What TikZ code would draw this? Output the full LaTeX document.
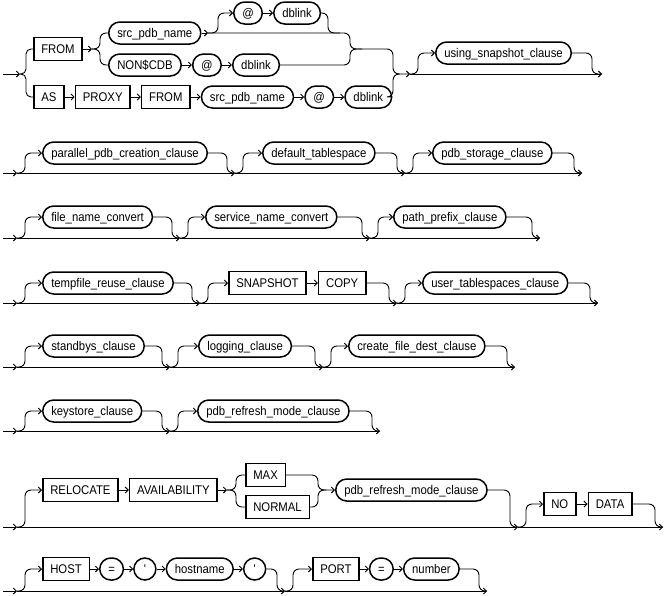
\documentclass[tikz,border=0pt]{standalone}
\usepackage{fontspec}
\newfontfamily\railsans{Liberation Sans}[FakeStretch=0.9]
\usetikzlibrary{arrows.meta,positioning}
\tikzset{
  rail/.style={line width=0.9pt, rounded corners=6pt},
  railto/.style={rail, -{Straight Barb[length=3pt,width=6pt]}},
  kwbox/.style={draw, line width=1.5pt, rectangle, minimum height=23pt, inner xsep=7.5pt, inner ysep=0pt,
    text height=9pt, text depth=0pt, font=\railsans\fontsize{12.6pt}{14pt}\selectfont, anchor=west},
  ntbox/.style={kwbox, rounded corners=11pt, minimum height=22pt, minimum width=22pt, inner xsep=8.5pt},
}
\begin{document}
\begin{tikzpicture}[x=1pt,y=-1pt]
\path[use as bounding box,fill=white] (0,0) rectangle (668,595);

% FROM ... / AS PROXY FROM ...
\node[kwbox] (from1) at (33,49) {FROM};
\node[ntbox] (src1) at (108,33) {src\_pdb\_name};
\node[ntbox] (at1) at (233,13) {@};
\node[ntbox,right=10pt of at1] (dblink1) {dblink};
\node[ntbox] (noncdb) at (108,65) {NON\$CDB};
\node[ntbox,right=10pt of noncdb] (at2) {@};
\node[ntbox,right=10pt of at2] (dblink2) {dblink};
\node[kwbox] (as) at (33,97) {AS};
\node[kwbox,right=10pt of as] (proxy) {PROXY};
\node[kwbox,right=10pt of proxy] (from2) {FROM};
\node[ntbox,right=10pt of from2] (src2) {src\_pdb\_name};
\node[ntbox,right=10pt of src2] (at3) {@};
\node[ntbox,right=10pt of at3] (dblink3) {dblink};
\node[ntbox] (usnap) at (435,53) {using\_snapshot\_clause};

\coordinate (r1a) at (3,74);
\coordinate (r1b) at (20,74);
\coordinate (fsp) at (92,49);
\coordinate (s1o) at (208,33);
\coordinate (m1) at (410,74);
\coordinate (r1e) at (602,74);

\draw[railto] (r1a) -- (r1b);
\draw[rail,rounded corners=5pt] (r1b) -| (26,49) -- (from1.west);
\draw[rail,rounded corners=5pt] (r1b) -| (26,97) -- (as.west);
\draw[railto] (from1.east) -- (fsp);
\draw[rail] (fsp) -| (100,33) -- (src1.west);
\draw[rail] (fsp) -| (100,65) -- (noncdb.west);
\draw[railto] (src1.east) -- (s1o);
\draw[railto] (s1o) -| (218,13) -- (at1.west);
\draw[railto] (at1) -- (dblink1);
\draw[rail] (dblink1.east) -| (328,33) -- (340,33);
\draw[railto] (s1o) -| (350,49) -| (393,74) -- (m1);
\draw[railto] (noncdb) -- (at2);
\draw[railto] (at2) -- (dblink2);
\draw[rail] (dblink2.east) -| (350,49) -- (362,49);
\draw[railto] (as) -- (proxy);
\draw[railto] (proxy) -- (from2);
\draw[railto] (from2) -- (src2);
\draw[railto] (src2) -- (at3);
\draw[railto] (at3) -- (dblink3);
\draw[rail] (dblink3.east) -| (393,74) -- (400,74);
\draw[railto] (m1) -- (r1e);
\draw[railto] (m1) -| (418,53) -- (usnap.west);
\draw[rail] (usnap.east) -| (592,74) -- (r1e);

% parallel_pdb_creation_clause ...
\node[ntbox] (ppcc) at (42,153) {parallel\_pdb\_creation\_clause};
\node[ntbox] (dtbs) at (262,153) {default\_tablespace};
\node[ntbox] (pscl) at (432,153) {pdb\_storage\_clause};
\coordinate (r2a) at (3,173);
\coordinate (r2b) at (17,173);
\coordinate (r2c) at (235,173);
\coordinate (r2d) at (405,173);
\coordinate (r2e) at (582,173);
\draw[railto] (r2a) -- (r2b);
\draw[railto] (r2b) -- (r2c);
\draw[railto] (r2c) -- (r2d);
\draw[railto] (r2d) -- (r2e);
\draw[railto] (r2b) -| (25,153) -- (ppcc.west);
\draw[rail] (ppcc.east) -| (227,173) -- (r2c);
\draw[railto] (r2c) -| (243,153) -- (dtbs.west);
\draw[rail] (dtbs.east) -| (397,173) -- (r2d);
\draw[railto] (r2d) -| (413,153) -- (pscl.west);
\draw[rail] (pscl.east) -| (574,173) -- (r2e);

% file_name_convert ...
\node[ntbox] (fnc) at (42,217) {file\_name\_convert};
\node[ntbox] (snc) at (205,217) {service\_name\_convert};
\node[ntbox] (ppfx) at (393,217) {path\_prefix\_clause};
\coordinate (r3a) at (3,238);
\coordinate (r3b) at (17,238);
\coordinate (r3c) at (180,238);
\coordinate (r3d) at (370,238);
\coordinate (r3e) at (540,238);
\draw[railto] (r3a) -- (r3b);
\draw[railto] (r3b) -- (r3c);
\draw[railto] (r3c) -- (r3d);
\draw[railto] (r3d) -- (r3e);
\draw[railto] (r3b) -| (25,217) -- (fnc.west);
\draw[rail] (fnc.east) -| (172,238) -- (r3c);
\draw[railto] (r3c) -| (188,217) -- (snc.west);
\draw[rail] (snc.east) -| (362,238) -- (r3d);
\draw[railto] (r3d) -| (378,217) -- (ppfx.west);
\draw[rail] (ppfx.east) -| (532,238) -- (r3e);

% tempfile_reuse_clause ...
\node[ntbox] (trc) at (42,283) {tempfile\_reuse\_clause};
\node[kwbox] (snapshot) at (228,283) {SNAPSHOT};
\node[kwbox,right=11pt of snapshot] (copy) {COPY};
\node[ntbox] (utc) at (422,283) {user\_tablespaces\_clause};
\coordinate (r4a) at (3,303);
\coordinate (r4b) at (17,303);
\coordinate (r4c) at (200,303);
\coordinate (r4d) at (397,303);
\coordinate (r4e) at (598,303);
\draw[railto] (r4a) -- (r4b);
\draw[railto] (r4b) -- (r4c);
\draw[railto] (r4c) -- (r4d);
\draw[railto] (r4d) -- (r4e);
\draw[railto] (r4b) -| (25,283) -- (trc.west);
\draw[rail] (trc.east) -| (192,303) -- (r4c);
\draw[railto] (r4c) -| (208,283) -- (snapshot.west);
\draw[railto] (snapshot) -- (copy);
\draw[rail] (copy.east) -| (389,303) -- (r4d);
\draw[railto] (r4d) -| (405,283) -- (utc.west);
\draw[rail] (utc.east) -| (590,303) -- (r4e);

% standbys_clause ...
\node[ntbox] (sbc) at (42,346) {standbys\_clause};
\node[ntbox] (lgc) at (198,346) {logging\_clause};
\node[ntbox] (cfdc) at (348,346) {create\_file\_dest\_clause};
\coordinate (r5a) at (3,367);
\coordinate (r5b) at (17,367);
\coordinate (r5c) at (170,367);
\coordinate (r5d) at (323,367);
\coordinate (r5e) at (515,367);
\draw[railto] (r5a) -- (r5b);
\draw[railto] (r5b) -- (r5c);
\draw[railto] (r5c) -- (r5d);
\draw[railto] (r5d) -- (r5e);
\draw[railto] (r5b) -| (25,346) -- (sbc.west);
\draw[rail] (sbc.east) -| (162,367) -- (r5c);
\draw[railto] (r5c) -| (178,346) -- (lgc.west);
\draw[rail] (lgc.east) -| (315,367) -- (r5d);
\draw[railto] (r5d) -| (331,346) -- (cfdc.west);
\draw[rail] (cfdc.east) -| (507,367) -- (r5e);

% keystore_clause ...
\node[ntbox] (ksc) at (42,411) {keystore\_clause};
\node[ntbox] (prmc1) at (197,411) {pdb\_refresh\_mode\_clause};
\coordinate (r6a) at (3,431);
\coordinate (r6b) at (17,431);
\coordinate (r6c) at (170,431);
\coordinate (r6d) at (380,431);
\draw[railto] (r6a) -- (r6b);
\draw[railto] (r6b) -- (r6c);
\draw[railto] (r6c) -- (r6d);
\draw[railto] (r6b) -| (25,411) -- (ksc.west);
\draw[rail] (ksc.east) -| (162,431) -- (r6c);
\draw[railto] (r6c) -| (178,411) -- (prmc1.west);
\draw[rail] (prmc1.east) -| (372,431) -- (r6d);

% RELOCATE AVAILABILITY ...
\node[kwbox] (reloc) at (42,490) {RELOCATE};
\node[kwbox,right=10pt of reloc] (avail) {AVAILABILITY};
\node[kwbox] (max) at (245,475) {MAX};
\node[kwbox] (normal) at (245,507) {NORMAL};
\node[ntbox] (prmc2) at (335,490) {pdb\_refresh\_mode\_clause};
\node[kwbox] (no) at (543,504) {NO};
\node[kwbox,right=11pt of no] (data) {DATA};
\coordinate (r7a) at (3,527);
\coordinate (r7b) at (17,527);
\coordinate (avsp) at (227,490);
\coordinate (r7c) at (518,527);
\coordinate (r7d) at (663,527);
\draw[railto] (r7a) -- (r7b);
\draw[railto] (r7b) -- (r7c);
\draw[railto] (r7c) -- (r7d);
\draw[railto] (r7b) -| (25,490) -- (reloc.west);
\draw[railto] (reloc) -- (avail);
\draw[railto] (avail.east) -- (avsp);
\draw[rail] (avsp) -| (236,475) -- (max.west);
\draw[rail] (avsp) -| (236,507) -- (normal.west);
\draw[railto] (max.east) -| (318,490) -- (prmc2.west);
\draw[rail] (normal.east) -| (318,490) -- (326,490);
\draw[rail] (prmc2.east) -| (510,527) -- (r7c);
\draw[railto] (r7c) -| (526,504) -- (no.west);
\draw[railto] (no) -- (data);
\draw[rail] (data.east) -| (655,527) -- (r7d);

% HOST = 'hostname' PORT = number
\node[kwbox] (host) at (42,569) {HOST};
\node[ntbox,right=9pt of host] (eq1) {=};
\node[ntbox,right=9pt of eq1] (q1) {'};
\node[ntbox,right=9pt of q1] (hname) {hostname};
\node[ntbox,right=9pt of hname] (q2) {'};
\node[kwbox] (port) at (312,569) {PORT};
\node[ntbox,right=9pt of port] (eq2) {=};
\node[ntbox,right=9pt of eq2] (num) {number};
\coordinate (r8a) at (3,591);
\coordinate (r8b) at (17,591);
\coordinate (r8c) at (285,591);
\coordinate (r8d) at (487,591);
\draw[railto] (r8a) -- (r8b);
\draw[railto] (r8b) -- (r8c);
\draw[railto] (r8c) -- (r8d);
\draw[railto] (r8b) -| (25,569) -- (host.west);
\draw[railto] (host) -- (eq1);
\draw[railto] (eq1) -- (q1);
\draw[railto] (q1) -- (hname);
\draw[railto] (hname) -- (q2);
\draw[rail] (q2.east) -| (277,591) -- (r8c);
\draw[railto] (r8c) -| (293,569) -- (port.west);
\draw[railto] (port) -- (eq2);
\draw[railto] (eq2) -- (num);
\draw[rail] (num.east) -| (479,591) -- (r8d);
\end{tikzpicture}
\end{document}
